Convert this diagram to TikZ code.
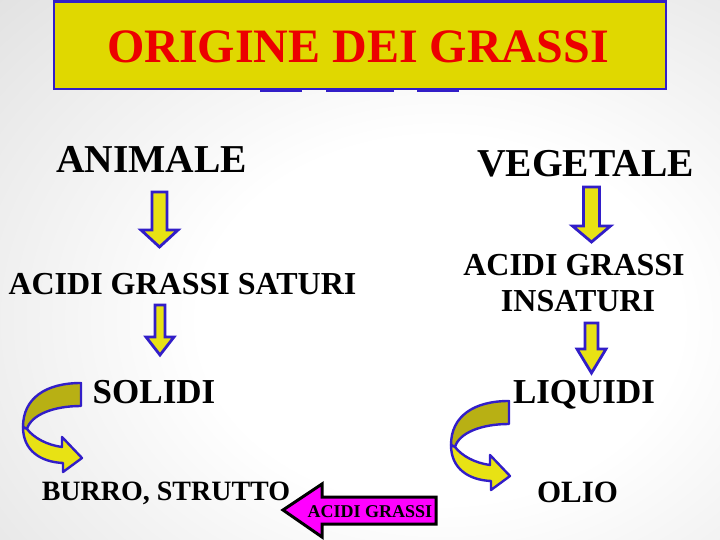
\documentclass[tikz,border=0pt]{standalone}
\usepackage{fontspec}
\setmainfont{Liberation Serif}
\definecolor{bggray}{RGB}{196,196,196}
\definecolor{boxyellow}{RGB}{224,216,0}
\definecolor{arrowyellow}{RGB}{232,226,20}
\definecolor{backolive}{RGB}{184,176,20}
\definecolor{edgeblue}{RGB}{50,30,200}
\definecolor{titlered}{RGB}{236,0,0}
\definecolor{magentafill}{RGB}{255,0,255}
\pgfdeclareradialshading{bgshade}{\pgfpoint{0bp}{0bp}}{color(0bp)=(white); color(12bp)=(white); color(50bp)=(bggray); color(60bp)=(bggray)}
\tikzset{
  lbl/.style={anchor=base, inner sep=0pt, font=\bfseries\fontsize{#1}{#1}\selectfont, text=black},
  blockarrow/.style={fill=arrowyellow, draw=edgeblue, line width=2.8pt, line join=miter},
  backband/.style={fill=backolive, draw=edgeblue, line width=2.4pt, line join=round},
  frontband/.style={fill=arrowyellow, draw=edgeblue, line width=2.4pt, line join=round},
}
\newcommand\blockdown[6]{% cx, top, shaft width, head width, head top, tip
  \draw[blockarrow] ({#1-#3/2},#2) -- ({#1+#3/2},#2) -- ({#1+#3/2},#5) -- ({#1+#4/2},#5)
    -- (#1,#6) -- ({#1-#4/2},#5) -- ({#1-#3/2},#5) -- cycle;}
\newcommand\curvedarrow[2]{% shift x, shift y
  \begin{scope}[shift={(#1,#2)}]
    \draw[backband] (0,0) .. controls (-35,0) and (-58,15) .. (-58,44)
      -- (-54,46) .. controls (-50,32) and (-28,23) .. (0,23) -- cycle;
    \draw[frontband] (-58,44) .. controls (-58,68) and (-40,79) .. (-18,80)
      -- (-18,89) -- (1,75) -- (-19,54) -- (-19,64)
      .. controls (-34,62) and (-47,55) .. (-54,46) -- cycle;
  \end{scope}}
\begin{document}
\begin{tikzpicture}[x=1pt,y=-1pt]
\useasboundingbox (0,0) rectangle (720,540);
\begin{scope}
  \clip (0,0) rectangle (720,540);
  \shade[shading=bgshade] (-60,-60) rectangle (940,700);
\end{scope}
% title box
\draw[fill=boxyellow, draw=edgeblue, line width=2.6pt] (54,1.5) rectangle (666,89);
\foreach \a/\b in {260/302, 326/394, 417/459}
  \draw[edgeblue, line width=3pt] (\a,90.5) -- (\b,90.5);
\node[anchor=base, inner sep=0pt, font=\bfseries\fontsize{48}{48}\selectfont, text=titlered] (title) at (358,63) {ORIGINE DEI GRASSI};
% texts
\node[lbl=39.5] (animale) at (151.5,173) {ANIMALE};
\node[lbl=39.5] (vegetale) at (585.5,177) {VEGETALE};
\node[lbl=32] (saturi) at (182.5,294) {ACIDI GRASSI SATURI};
\node[lbl=32] (insat1) at (574,275) {ACIDI GRASSI};
\node[lbl=32] (insat2) at (578,311) {INSATURI};
\node[lbl=35] (solidi) at (154,403) {SOLIDI};
\node[lbl=35] (liquidi) at (584,403) {LIQUIDI};
\node[lbl=28] (burro) at (166,500) {BURRO, STRUTTO};
\node[lbl=31] (olio) at (577.5,502) {OLIO};
% block arrows down
\blockdown{159.5}{192}{15}{37}{230}{247}
\blockdown{160}{305}{10}{28}{337}{355}
\blockdown{591.5}{187}{16}{38}{226}{242}
\blockdown{591.5}{323}{13}{29}{349}{373}
% curved arrows
\curvedarrow{81}{383}
\curvedarrow{509}{401}
% magenta arrow
\draw[fill=magentafill, draw=black, line width=3pt, line join=miter]
  (283,510) -- (322,484) -- (322,497) -- (436,497) -- (436,524) -- (322,524) -- (322,537) -- cycle;
\node[lbl=18] (fa) at (370,517) {ACIDI GRASSI};
\end{tikzpicture}
\end{document}
